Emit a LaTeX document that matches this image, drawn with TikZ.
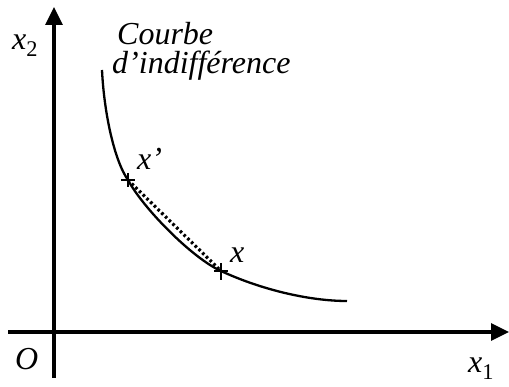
\documentclass[tikz,border=0pt]{standalone}
\usepackage{fontspec}
\setmainfont{Liberation Serif}
\usepackage{tikz}
\usetikzlibrary{positioning,arrows.meta}

\begin{document}
\begin{tikzpicture}[x=1pt,y=-1pt,every node/.style={font=\fontsize{32}{29}\selectfont\itshape,inner sep=0pt}]
    \tikzstyle{axe}=[line width=3.4pt,-{Triangle[width=17pt,length=18pt]}];
    \tikzstyle{courbe}=[line width=2.3pt];
    \tikzstyle{croix}=[line width=1.3pt];
    \useasboundingbox (0,0) rectangle (509,387);
    \coordinate (S)  at (54,378);
    \coordinate (N)  at (54,7);
    \coordinate (W)  at (8,332);
    \coordinate (E)  at (509,332);
    \coordinate (c0) at (102,70);
    \coordinate (xp) at (128,180);
    \coordinate (xx) at (221,271);
    \coordinate (c3) at (347,301);
    \draw[axe] (S) -- (N);
    \draw[axe] (W) -- (E);
    \draw[courbe] (c0) .. controls (104,112) and (114,160) .. (xp)
                       .. controls (143,208) and (192,258) .. (xx)
                       .. controls (262,290) and (310,301) .. (c3);
    \draw[line width=3.2pt,dash pattern=on 2.6pt off 2.6pt] (xp) -- (xx);
    \draw[croix] (xp) +(-7,0) -- +(7,0) (xp) +(0,-7) -- +(0,7);
    \draw[croix] (xx) +(-7,0) -- +(7,0) (xx) +(0,-8) -- +(0,9);
    \node[anchor=base west] (lx2) at (12,50) {x\textsubscript{\upshape 2}};
    \node[anchor=base west] (lO) at (15,370) {O};
    \node[anchor=base west] (lx1) at (468,373) {x\textsubscript{\upshape 1}};
    \node[anchor=base west,align=left] (lcourbe) at (112,74) {\hspace{5pt}Courbe\\d’indifférence};
    \node[anchor=base west] (lxp) at (137,170) {x’};
    \node[anchor=base west] (lxx) at (230,263) {x};
\end{tikzpicture}
\end{document}
